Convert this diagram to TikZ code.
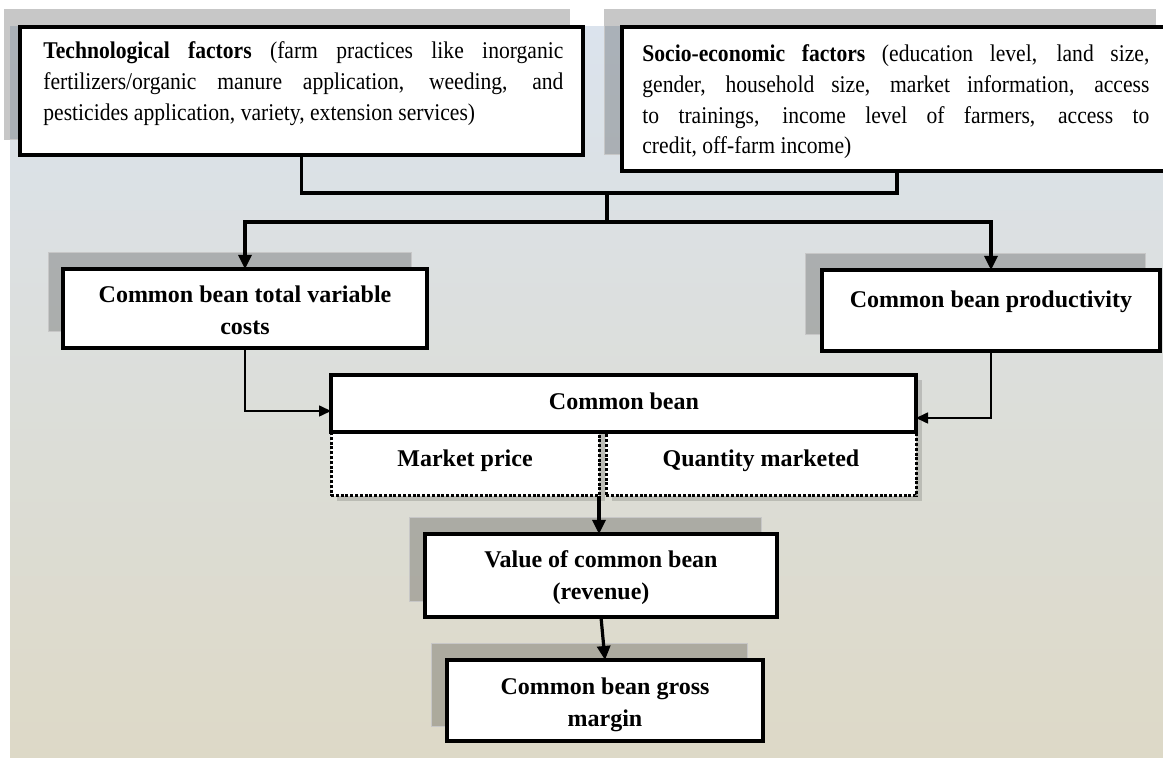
\documentclass[tikz,border=0pt]{standalone}
\usepackage{fontspec}
\setmainfont{Liberation Serif}
\newfontfamily\topfont{Liberation Serif}[FakeStretch=0.9]
\usetikzlibrary{fit,arrows.meta,calc}
\definecolor{bgtop}{RGB}{219,227,237}
\definecolor{bgmid}{RGB}{221,224,224}
\definecolor{bgbot}{RGB}{221,217,199}
\begin{document}
\begin{tikzpicture}[x=0.5pt,y=-0.5pt,
  boxn/.style={draw=black,line width=2pt,fill=white,inner sep=0pt,outer sep=0pt},
  dotbox/.style={draw=black,line width=1.5pt,dash pattern=on 1.5pt off 0.9pt,fill=white,inner sep=0pt,outer sep=0pt},
  shadowbox/.style={fill=black,fill opacity=0.22,draw=black!22,line width=0.5pt},
  lightshadow/.style={fill=black,fill opacity=0.15},
  toptext/.style={font={\topfont\fontsize{12}{15.3}\selectfont\hyphenpenalty=10000\relax\tolerance=10000\relax\hbadness=10000\relax},inner sep=0pt,align=justify},
  lowtext/.style={font=\fontsize{12}{16}\selectfont\bfseries,inner sep=0pt,align=center},
  conn/.style={line width=1.6pt},
  arr/.style={line width=1.6pt,-{Triangle[length=7pt,width=6.5pt]}},
  tarr/.style={line width=0.8pt,-{Triangle[length=6pt,width=5.5pt]}}
]
\fill[white] (0,0) rectangle (1163,758);
\useasboundingbox (0,0) rectangle (1163,758);
\clip (0,0) rectangle (1163,758);
\shade[top color=bgtop, middle color=bgmid, bottom color=bgbot] (10,27) rectangle (1163,758);

% shadows
\path[shadowbox] (4,10) rectangle (569,140);
\path[shadowbox] (604,10) rectangle (1155,155);
\path[shadowbox] (48,253) rectangle (411,332);
\path[shadowbox] (805,254) rectangle (1145,335);
\path[shadowbox] (409,518) rectangle (761,602);
\path[shadowbox] (431,644) rectangle (747,727);
\path[lightshadow] (337,380) rectangle (922,437);
\path[lightshadow] (337,437) rectangle (605,501);
\path[lightshadow] (612,437) rectangle (922,501);

% boxes
\node[boxn,fit={(20,27) (583,155)}] (b1) {};
\node[boxn,fit={(622,27) (1172,171)}] (b2) {};
\node[boxn,fit={(63,269) (427,348)}] (b3) {};
\node[boxn,fit={(822,270) (1160,351)}] (b4) {};
\node[dotbox,fit={(331,432) (599,496)}] (mp) {};
\node[dotbox,fit={(606,432) (916,496)}] (qm) {};
\node[boxn,fit={(331,375) (916,432)}] (cb) {};
\node[boxn,fit={(425,534) (777,617)}] (vb) {};
\node[boxn,fit={(447,660) (763,741)}] (gm) {};

% texts
\node[toptext,text width=260pt,anchor=base west] (t1) at (43,59)
 {\textbf{Technological factors} (farm practices like inorganic\linebreak fertilizers/organic manure application, weeding, and\linebreak pesticides application, variety, extension services)};
\node[toptext,text width=253.5pt,anchor=base west] (t2) at (642,62)
 {\textbf{Socio-economic factors} (education level, land size,\linebreak gender, household size, market information, access\linebreak to trainings, income level of farmers, access to\linebreak credit, off-farm income)};
\node[lowtext,anchor=base] (t3) at (245,335) {Common bean total variable\\costs};
\node[lowtext,anchor=base] (t4) at (991,308) {Common bean productivity};
\node[lowtext,anchor=base] (tcb) at (624,410) {Common bean};
\node[lowtext,anchor=base] (tmp) at (465,467) {Market price};
\node[lowtext,anchor=base] (tqm) at (761,467) {Quantity marketed};
\node[lowtext,anchor=base] (tvb) at (601,600) {Value of common bean\\(revenue)};
\node[lowtext,anchor=base] (tgm) at (605,727) {Common bean gross\\margin};

% connectors
\coordinate (j1) at (607,193);
\coordinate (j2) at (607,222);
\draw[conn] (b1.south) |- (j1) -| (b2.south);
\draw[conn] (j1) -- (j2);
\draw[arr] (j2) -| (b3.north);
\draw[arr] (j2) -| (b4.north);
\draw[tarr] (b3.south) |- ([yshift=-3.75pt]cb.west);
\draw[tarr] (b4.south) |- ([yshift=-7.25pt]cb.east);
\draw[arr] (mp.south east) -- (mp.south east |- vb.north);
\draw[arr] (vb.south) -- (gm.north);
\end{tikzpicture}
\end{document}
